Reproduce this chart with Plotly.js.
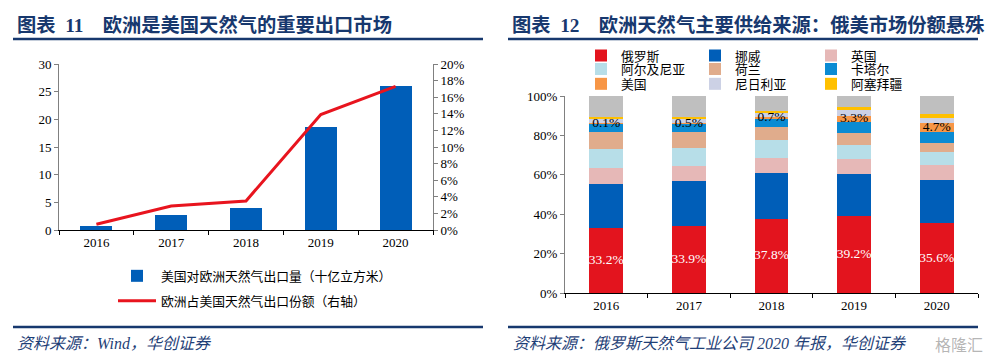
<!DOCTYPE html>
<html>
<head>
<meta charset="utf-8">
<script src="https://cdn.plot.ly/plotly-3.0.1.min.js"></script>
<style>
  html, body { margin: 0; padding: 0; background: #fff; }
  #chart { width: 988px; height: 362px; }
</style>
</head>
<body>
<div id="chart"></div>
<script>
// ---------- data: left chart ----------
var years = ['2016', '2017', '2018', '2019', '2020'];
var usExportToEurope = [0.7, 2.8, 3.9, 18.6, 26.1];   // 十亿立方米
var europeShareOfUS = [0.7, 2.9, 3.5, 13.9, 17.3];     // %

// ---------- data: right chart (% of European supply) ----------
var supplierNames = ['俄罗斯', '挪威', '英国', '阿尔及尼亚', '荷兰', '卡塔尔', '美国', '尼日利亚', '阿塞拜疆'];
var russia      = [33.2, 33.9, 37.8, 39.2, 35.6];
var norway      = [22.4, 23.0, 23.0, 21.3, 21.8];
var uk          = [8.1, 7.8, 7.9, 7.6, 7.6];
var algeria     = [9.4, 8.8, 9.0, 7.1, 6.8];
var netherlands = [8.8, 8.1, 6.4, 5.9, 4.6];
var qatar       = [4.1, 4.0, 4.4, 5.6, 5.2];
var usa         = [0.1, 0.5, 0.7, 3.3, 4.7];
var nigeria     = [2.1, 2.1, 2.0, 2.9, 2.5];
var azerbaijan  = [1.0, 1.0, 1.2, 1.7, 2.2];
var others      = [10.8, 10.8, 7.6, 5.4, 9.0];

// ---------- styling ----------
var W = 988, H = 362;
var FONT = 'Liberation Serif, "Noto Sans CJK SC", serif';
var NAVY = '#17386E';
function px(x) { return x / W; }
function py(y) { return 1 - y / H; }

var supplierSeries = [russia, norway, uk, algeria, netherlands, qatar, usa, nigeria, azerbaijan];
var supplierColors = ['#E3141E', '#005EB8', '#E6B8B7', '#B7DEE8', '#E0AC8C', '#0B8BD3', '#F79646', '#CCD1E5', '#FFC000'];

var traces = [];

// left chart
traces.push({
  type: 'bar', x: years, y: usExportToEurope, xaxis: 'x', yaxis: 'y',
  name: '美国对欧洲天然气出口量（十亿立方米）', width: 0.43,
  marker: { color: '#005EB8' }, legend: 'legend', hoverinfo: 'y'
});
traces.push({
  type: 'scatter', mode: 'lines', x: years, y: europeShareOfUS, xaxis: 'x', yaxis: 'y2',
  name: '欧洲占美国天然气出口份额（右轴）',
  line: { color: '#E8141E', width: 3 }, legend: 'legend2', hoverinfo: 'y'
});

// right chart stacked bars
for (var i = 0; i < supplierSeries.length; i++) {
  traces.push({
    type: 'bar', x: years, y: supplierSeries[i], xaxis: 'x2', yaxis: 'y3',
    name: supplierNames[i], width: 0.41,
    marker: { color: supplierColors[i] }, legend: 'legend' + (i + 3), hoverinfo: 'y'
  });
}
traces.push({
  type: 'bar', x: years, y: others, xaxis: 'x2', yaxis: 'y3', name: '其他', width: 0.41,
  marker: { color: '#BFBFBF' }, showlegend: false, hoverinfo: 'y'
});
// Russia share labels (middle of the Russia segment)
traces.push({
  type: 'scatter', mode: 'text', x: years, y: russia.map(function (v) { return v / 2; }),
  xaxis: 'x2', yaxis: 'y3',
  text: russia.map(function (v) { return v.toFixed(1) + '%'; }),
  textposition: 'middle center', textfont: { family: FONT, size: 13.5, color: '#FFFFFF' },
  showlegend: false, hoverinfo: 'skip'
});
// US share labels (middle of the US segment)
var usaLabelY = years.map(function (_, k) {
  return russia[k] + norway[k] + uk[k] + algeria[k] + netherlands[k] + qatar[k] + usa[k] / 2;
});
traces.push({
  type: 'scatter', mode: 'text', x: years, y: usaLabelY, xaxis: 'x2', yaxis: 'y3',
  text: usa.map(function (v) { return v.toFixed(1) + '%'; }),
  textposition: 'middle center', textfont: { family: FONT, size: 13.5, color: '#000' },
  showlegend: false, hoverinfo: 'skip'
});

function legendAt(xpx, ypx, extra) {
  return Object.assign({
    x: px(xpx), y: py(ypx), xanchor: 'left', yanchor: 'middle', orientation: 'v',
    bgcolor: 'rgba(0,0,0,0)', borderwidth: 0,
    font: { family: FONT, size: 12.8, color: '#000' }
  }, extra || {});
}

var tickFont = { family: FONT, size: 13, color: '#000' };

var layout = {
  width: W, height: H,
  margin: { l: 0, r: 0, t: 0, b: 0 },
  paper_bgcolor: '#fff', plot_bgcolor: '#fff',
  barmode: 'stack',
  showlegend: true,
  xaxis: {
    domain: [px(59), px(433)], anchor: 'y', type: 'category',
    showline: true, linecolor: '#000', linewidth: 1,
    ticks: 'outside', tickson: 'boundaries', ticklen: 4, tickcolor: '#000',
    tickfont: tickFont, showgrid: false, zeroline: false, automargin: false, fixedrange: true
  },
  yaxis: {
    domain: [py(230), py(64)], anchor: 'x', range: [0, 30], dtick: 5,
    showline: true, linecolor: '#808080', linewidth: 1,
    ticks: 'outside', ticklen: 4, tickcolor: '#808080',
    tickfont: tickFont, showgrid: false, zeroline: false, automargin: false, fixedrange: true
  },
  yaxis2: {
    overlaying: 'y', side: 'right', anchor: 'x', range: [0, 20], dtick: 2, ticksuffix: '%',
    showline: true, linecolor: '#808080', linewidth: 1,
    ticks: 'outside', ticklen: 4, tickcolor: '#808080',
    tickfont: tickFont, showgrid: false, zeroline: false, automargin: false, fixedrange: true
  },
  xaxis2: {
    domain: [px(565), px(978)], anchor: 'y3', type: 'category',
    showline: true, linecolor: '#000', linewidth: 1,
    ticks: 'outside', tickson: 'boundaries', ticklen: 4, tickcolor: '#000',
    tickfont: tickFont, showgrid: false, zeroline: false, automargin: false, fixedrange: true
  },
  yaxis3: {
    domain: [py(293.3), py(96)], anchor: 'x2', range: [0, 100], dtick: 20, ticksuffix: '%',
    showline: true, linecolor: '#808080', linewidth: 1,
    ticks: 'outside', ticklen: 4, tickcolor: '#808080',
    tickfont: tickFont, showgrid: false, zeroline: false, automargin: false, fixedrange: true
  },
  legend: legendAt(113, 276, { itemwidth: 38 }),
  legend2: legendAt(113, 301, { itemwidth: 38 }),
  shapes: [
    { type: 'line', xref: 'paper', yref: 'paper', x0: px(13), x1: px(483), y0: py(39), y1: py(39), line: { color: NAVY, width: 2.5 } },
    { type: 'line', xref: 'paper', yref: 'paper', x0: px(508), x1: px(978), y0: py(39), y1: py(39), line: { color: NAVY, width: 2.5 } },
    { type: 'line', xref: 'paper', yref: 'paper', x0: px(13), x1: px(483), y0: py(327), y1: py(327), line: { color: NAVY, width: 2.5 } },
    { type: 'line', xref: 'paper', yref: 'paper', x0: px(508), x1: px(978), y0: py(327), y1: py(327), line: { color: NAVY, width: 2.5 } }
  ],
  annotations: [
    { xref: 'paper', yref: 'paper', x: px(15), y: py(25), xanchor: 'left', yanchor: 'middle', showarrow: false,
      text: '<b>图表\u00A0\u00A011\u00A0\u00A0\u00A0\u00A0欧洲是美国天然气的重要出口市场</b>',
      font: { family: FONT, size: 19.3, color: NAVY } },
    { xref: 'paper', yref: 'paper', x: px(510), y: py(25), xanchor: 'left', yanchor: 'middle', showarrow: false,
      text: '<b>图表\u00A0\u00A012\u00A0\u00A0\u00A0\u00A0欧洲天然气主要供给来源：俄美市场份额悬殊</b>',
      font: { family: FONT, size: 19.3, color: NAVY } },
    { xref: 'paper', yref: 'paper', x: px(15), y: py(343), xanchor: 'left', yanchor: 'middle', showarrow: false,
      text: '<i>资料来源：Wind，华创证券</i>',
      font: { family: FONT, size: 16, color: '#1F3F77' } },
    { xref: 'paper', yref: 'paper', x: px(511), y: py(343), xanchor: 'left', yanchor: 'middle', showarrow: false,
      text: '<i>资料来源：俄罗斯天然气工业公司 2020 年报，华创证券</i>',
      font: { family: FONT, size: 16, color: '#1F3F77' } },
    { xref: 'paper', yref: 'paper', x: px(985), y: py(344), xanchor: 'right', yanchor: 'middle', showarrow: false,
      text: '格隆汇',
      font: { family: '"Noto Sans CJK SC", sans-serif', size: 16, color: 'rgba(150,150,150,0.7)' } }
  ]
};

var colX = [581, 695, 811];
var rowY = [55.7, 69.3, 84];
for (var j = 0; j < 9; j++) {
  layout['legend' + (j + 3)] = legendAt(colX[j % 3], rowY[Math.floor(j / 3)]);
}

Plotly.newPlot('chart', traces, layout, { displayModeBar: false, staticPlot: true });
</script>
</body>
</html>
